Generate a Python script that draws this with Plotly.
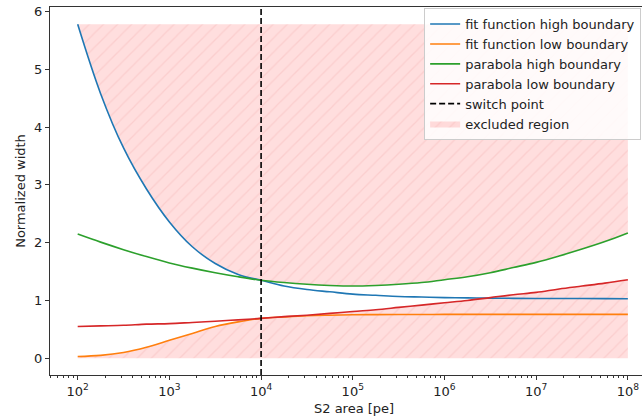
import numpy as np
import plotly.graph_objects as go

# ---- data ----
log_area = [2.0, 2.25, 2.5, 2.75, 3.0, 3.25, 3.5, 3.75, 4.0, 4.25, 4.5, 4.75, 5.0,
            5.25, 5.5, 5.75, 6.0, 6.25, 6.5, 6.75, 7.0, 7.25, 7.5, 7.75, 8.0]
fit_high = [5.78, 4.58, 3.64, 2.93, 2.36, 1.93, 1.64, 1.45, 1.35, 1.25, 1.19, 1.15, 1.11,
            1.09, 1.07, 1.06, 1.05, 1.045, 1.04, 1.037, 1.035, 1.034, 1.033, 1.032, 1.031]
fit_low = [0.03, 0.05, 0.10, 0.19, 0.31, 0.43, 0.55, 0.63, 0.69, 0.715, 0.735, 0.745, 0.752,
           0.755, 0.757, 0.758, 0.759, 0.76, 0.76, 0.76, 0.76, 0.76, 0.76, 0.76, 0.76]
para_high = [2.15, 2.01, 1.88, 1.76, 1.65, 1.56, 1.48, 1.41, 1.35, 1.31, 1.28, 1.26, 1.25,
             1.26, 1.28, 1.31, 1.36, 1.41, 1.48, 1.57, 1.66, 1.77, 1.89, 2.02, 2.17]
para_low = [0.55, 0.56, 0.57, 0.59, 0.60, 0.62, 0.64, 0.665, 0.69, 0.72, 0.745, 0.776, 0.81,
            0.84, 0.88, 0.92, 0.96, 1.00, 1.05, 1.10, 1.14, 1.20, 1.25, 1.30, 1.36]
switch_point = 1e4
tick_decades = [2, 3, 4, 5, 6, 7, 8]
y_ticks = [0, 1, 2, 3, 4, 5, 6]

x = [10 ** u for u in log_area]

colors = {"blue": "#1f77b4", "orange": "#ff7f0e", "green": "#2ca02c", "red": "#d62728"}

# excluded region: above the active high boundary, below the active low boundary
upper = [fh if xx <= switch_point else ph for xx, fh, ph in zip(x, fit_high, para_high)]
lower = [fl if xx <= switch_point else pl for xx, fl, pl in zip(x, fit_low, para_low)]
top = max(fit_high)
poly_x = x + x[::-1] + [None] + x + x[::-1]
poly_y = upper + [top] * len(x) + [None] + lower + [0] * len(x)

FS = 13

fig = go.Figure()
fig.add_trace(go.Scatter(
    x=poly_x, y=poly_y, mode="lines", fill="toself", name="excluded region",
    line=dict(width=0, color="rgba(255,0,0,0)"),
    fillcolor="rgba(255,0,0,0.13)",
    fillpattern=dict(shape="/", bgcolor="rgba(255,0,0,0.13)",
                     fgcolor="rgba(225,110,110,0.30)", size=10, solidity=0.12),
    legendrank=6, hoverinfo="skip"))

for name, ys, c, rank in [("fit function high boundary", fit_high, colors["blue"], 1),
                          ("fit function low boundary", fit_low, colors["orange"], 2),
                          ("parabola high boundary", para_high, colors["green"], 3),
                          ("parabola low boundary", para_low, colors["red"], 4)]:
    fig.add_trace(go.Scatter(x=x, y=ys, mode="lines", name=name,
                             line=dict(color=c, width=1.6, shape="spline"),
                             legendrank=rank))

fig.add_shape(type="line", x0=switch_point, x1=switch_point, xref="x",
              y0=0, y1=1, yref="paper",
              line=dict(color="black", width=1.6, dash="6px,3px"),
              showlegend=True, name="switch point", legendrank=5)

minor_vals = [m * 10 ** d for d in range(1, 9) for m in range(2, 10)]

fig.update_xaxes(type="log", range=[1.698, 8.154],
                 tickvals=[10 ** d for d in tick_decades],
                 ticktext=[f"10<sup>{d}</sup>" for d in tick_decades],
                 ticks="outside", ticklen=4, tickcolor="#333",
                 showline=True, linecolor="#333", linewidth=1, mirror=True,
                 showgrid=False, zeroline=False,
                 minor=dict(tickvals=minor_vals, ticks="outside", ticklen=2,
                            tickcolor="#333", showgrid=False),
                 tickfont=dict(size=FS, color="#222"))
fig.update_yaxes(range=[-0.29, 6.08], tickvals=y_ticks,
                 ticks="outside", ticklen=4, tickcolor="#333",
                 showline=True, linecolor="#333", linewidth=1, mirror=False,
                 showgrid=False, zeroline=False,
                 title=dict(text="Normalized width", font=dict(size=FS, color="#222"),
                            standoff=5),
                 tickfont=dict(size=FS, color="#222"))

fig.add_annotation(text="S2 area [pe]", xref="paper", yref="paper",
                   x=0.514, y=0, yshift=-33, yanchor="middle", showarrow=False,
                   font=dict(size=FS, color="#222"))

fig.update_layout(
    width=642, height=417,
    margin=dict(l=50, r=0, t=7, b=42),
    plot_bgcolor="white", paper_bgcolor="white",
    font=dict(family="DejaVu Sans", size=FS, color="#222"),
    legend=dict(x=0.632, y=0.997, xanchor="left", yanchor="top",
                bgcolor="rgba(255,255,255,0.85)", bordercolor="#ccc", borderwidth=1,
                font=dict(size=FS, color="#222"), tracegroupgap=0,
                itemwidth=30),
)

fig.write_html("out.html")
